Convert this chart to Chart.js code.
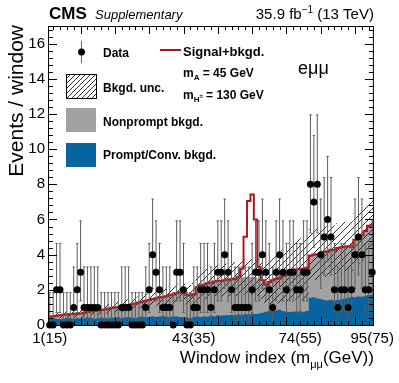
<!DOCTYPE html>
<html>
<head>
<meta charset="utf-8">
<script src="https://cdn.jsdelivr.net/npm/chart.js@4.4.0/dist/chart.umd.min.js"></script>
<style>
html, body { margin: 0; padding: 0; background: #fff; }
#wrap { width: 399px; height: 383px; }
</style>
</head>
<body>
<div id="wrap"><canvas id="myChart" width="399" height="383"></canvas></div>
<script>
// e-mu-mu channel, one entry per mass window (index 1..95)
var counts = [0,0,2,2,0,0,0,1,2,3, 1,1,1,1,1,0,0,0,0,0, 0,1,1,1,0,0,0,0,1,2,
              4,3,2,1,1,1,0,3,3,2, 0,0,1,1,2,2,2,1,2,3, 3,4,3,2,1,1,1,1,1,2,
              3,3,4,3,2,1,3,4,3,2, 3,3,2,2,3,3,8,7,8,4, 5,6,5,2,1,2,2,1,2,4,
              5,4,2,2,3];

// prompt / conversion background (blue)
var prompt = [0.35,0.38,0.35,0.32,0.36,0.40,0.38,0.35,0.40,0.37, 0.38,0.42,0.40,0.36,0.39,0.42,0.40,0.38,0.42,0.40,
              0.44,0.40,0.42,0.46,0.43,0.40,0.45,0.48,0.44,0.46, 0.50,0.46,0.48,0.52,0.47,0.45,0.50,0.48,0.46,0.44,
              0.42,0.40,0.44,0.48,0.45,0.50,0.47,0.52,0.50,0.55, 0.52,0.56,0.55,0.58,0.56,0.60,0.58,0.62,0.60,0.65,
              0.62,0.66,0.70,0.75,0.80,0.85,0.83,0.86,0.80,0.76, 0.74,0.77,0.75,0.78,0.76,0.80,1.55,1.58,1.52,1.48,
              1.42,1.40,1.44,1.40,1.42,1.45,1.50,1.55,1.60,1.58, 1.62,1.60,1.65,1.70,1.72];

// prompt + nonprompt (top of the grey stack)
var bkgdTotal = [0.47,0.50,0.52,0.55,0.58,0.60,0.62,0.62,0.64,0.66, 0.70,0.74,0.78,0.80,0.82,0.85,0.88,0.92,0.96,1.00,
                 1.02,1.05,1.10,1.14,1.18,1.22,1.28,1.32,1.38,1.42, 1.48,1.52,1.56,1.60,1.64,1.70,1.74,1.80,1.86,1.92,
                 1.72,1.68,1.75,2.15,2.25,2.30,2.38,2.42,2.48,2.52, 2.50,2.55,2.58,2.60,2.62,2.65,2.70,2.72,2.75,2.72,
                 2.70,2.65,2.45,2.30,2.45,2.55,2.62,2.70,2.78,2.85, 3.05,3.10,3.15,3.18,3.20,3.25,3.95,4.00,4.02,4.10,
                 4.15,4.20,4.28,4.25,4.38,4.42,4.45,4.48,4.45,4.85, 5.00,5.10,5.35,5.65,5.70];

// background uncertainty (half width of the hatched band)
var bkgdUnc = [0.15,0.16,0.16,0.17,0.18,0.18,0.19,0.19,0.20,0.20, 0.21,0.22,0.23,0.23,0.24,0.25,0.26,0.27,0.28,0.29,
               0.30,0.31,0.32,0.33,0.34,0.35,0.36,0.38,0.39,0.40, 0.42,0.43,0.44,0.45,0.46,0.47,0.48,0.49,0.50,0.52,
               0.55,0.60,0.65,0.75,0.80,0.82,0.85,0.87,0.88,0.90, 0.90,0.92,0.93,0.95,0.96,0.98,1.00,1.00,1.02,1.02,
               1.05,1.10,1.15,1.20,1.30,1.35,1.40,1.45,1.50,1.55, 1.60,1.65,1.70,1.75,1.80,1.82,1.50,1.45,1.45,1.42,
               1.42,1.40,1.42,1.40,1.40,1.42,1.42,1.45,1.45,1.50, 1.50,1.45,1.45,1.40,1.40];

// signal m_A = 45 GeV, m_H+ = 130 GeV
var signal = [0,0,0,0,0,0,0,0,0,0, 0,0,0,0,0,0,0,0,0,0, 0,0,0,0,0,0,0,0,0,0,
              0,0,0,0,0,0,0,0,0,0, 0,0,0,0,0,0,0,0,0,0, 0,0,0,0,0,0.10,0.50,2.30,4.30,4.70,
              3.30,0.65,0.10,0,0,0,0,0,0,0, 0,0,0,0,0,0,0,0,0,0, 0,0,0,0,0,0,0,0,0,0,
              0,0,0,0,0];

// Garwood 68% intervals for n = 0..8
var poissonLo = [0, 0.173, 0.708, 1.367, 2.086, 2.840, 3.620, 4.419, 5.232];
var poissonHi = [1.841, 3.300, 4.638, 5.918, 7.163, 8.382, 9.584, 10.77, 11.95];

var xTickPos = [1, 43, 74, 95];
var xTickLabels = ['1(15)', '43(35)', '74(55)', '95(75)'];
var yTickVals = [0, 2, 4, 6, 8, 10, 12, 14, 16];

var FONT = "'Liberation Sans', Arial, Helvetica, sans-serif";
var BLUE = '#07649f';
var GREY = '#a2a2a2';
var RED = '#b0161c';

//histogram outline: one point per left bin edge, plus the last right edge
function steps(vals) {
    var pts = vals.map(function(v, i) { return {x: i + 0.5, y: v}; });
    pts.push({x: vals.length + 0.5, y: vals[vals.length - 1]});
    return pts;
}

var sigPlusBkgd = bkgdTotal.map(function(v, i) { return v + signal[i]; });
var uncUp = bkgdTotal.map(function(v, i) { return v + bkgdUnc[i]; });
var uncDn = bkgdTotal.map(function(v, i) { return Math.max(0, v - bkgdUnc[i]); });

var dataPts = counts.map(function(c, i) { return {x: i + 1, y: c}; });
var errPts = [];
counts.forEach(function(c, i) {
    var x = i + 1, lo = poissonLo[c], hi = poissonHi[c];
    errPts.push({x: x, y: lo}, {x: x, y: hi}, {x: x, y: null});
    errPts.push({x: x - 0.35, y: hi}, {x: x + 0.35, y: hi}, {x: x, y: null});
    errPts.push({x: x - 0.35, y: lo}, {x: x + 0.35, y: lo}, {x: x, y: null});
});

var canvas = document.getElementById('myChart');
var ctx = canvas.getContext('2d');

function makeHatch(step, lw) {
    var c = document.createElement('canvas');
    c.width = step; c.height = step;
    var g = c.getContext('2d');
    g.strokeStyle = '#1a1a1a';
    g.lineWidth = lw;
    g.beginPath();
    g.moveTo(0, step); g.lineTo(step, 0);
    g.moveTo(-1, 1); g.lineTo(1, -1);
    g.moveTo(step - 1, step + 1); g.lineTo(step + 1, step - 1);
    g.stroke();
    return ctx.createPattern(c, 'repeat');
}
var hatch = makeHatch(7, 0.9);
var hatchLegend = makeHatch(5, 0.9);

// draw a string made of pieces [text, font, dy]
function drawRuns(c, runs, x, y, align) {
    var w = 0;
    runs.forEach(function(r) { c.font = r[1]; w += c.measureText(r[0]).width; });
    var cx = align === 'right' ? x - w : x;
    c.textAlign = 'left';
    runs.forEach(function(r) {
        c.font = r[1];
        c.fillText(r[0], cx, y + (r[2] || 0));
        cx += c.measureText(r[0]).width;
    });
}

////// frame and inner ticks, like ROOT
var framePlugin = {
    id: 'frame',
    afterDatasetsDraw: function(chart) {
        var c = chart.ctx, a = chart.chartArea, xs = chart.scales.x, ys = chart.scales.y;
        c.save();
        c.strokeStyle = '#000';
        c.lineWidth = 1;
        c.beginPath();
        for (var b = 2; b <= 94; b += 2) {
            var px = Math.round(xs.getPixelForValue(b)) + 0.5;
            var len = (b % 10 === 0) ? 8 : 4;
            c.moveTo(px, a.bottom); c.lineTo(px, a.bottom - len);
            c.moveTo(px, a.top); c.lineTo(px, a.top + len);
        }
        for (var k = 0; k <= 42; k++) {
            var v = k * 0.4;
            if (v > 17) break;
            var py = Math.round(ys.getPixelForValue(v)) + 0.5;
            var l2 = (k % 5 === 0) ? 9 : 5;
            c.moveTo(a.left, py); c.lineTo(a.left + l2, py);
            c.moveTo(a.right, py); c.lineTo(a.right - l2, py);
        }
        c.stroke();
        c.strokeRect(a.left + 0.5, a.top + 0.5, a.right - a.left - 1, a.bottom - a.top);
        c.restore();
    }
};

////// header, axis titles and legend
var textPlugin = {
    id: 'texts',
    afterDraw: function(chart) {
        var c = chart.ctx, a = chart.chartArea;
        c.save();
        c.fillStyle = '#000';
        c.textBaseline = 'alphabetic';
        drawRuns(c, [['CMS', 'bold 17px ' + FONT]], 49, 19);
        drawRuns(c, [['Supplementary', 'italic 13px ' + FONT]], 95, 19);
        drawRuns(c, [['35.9 fb', '15px ' + FONT], ['\u22121', '10px ' + FONT, -6], [' (13 TeV)', '15px ' + FONT]], a.right, 19, 'right');

        // axis titles
        drawRuns(c, [['Window index (m', '17px ' + FONT], ['\u03bc\u03bc', '11px ' + FONT, 5], ['(GeV))', '17px ' + FONT]], a.right, 363, 'right');
        c.save();
        c.translate(23, a.top - 1);
        c.rotate(-Math.PI / 2);
        c.font = '21px ' + FONT;
        c.textAlign = 'right';
        c.fillText('Events / window', 0, 0);
        c.restore();

        // legend, left column
        c.strokeStyle = '#5a5ad0';
        c.lineWidth = 1;
        c.beginPath(); c.moveTo(81.5, 41); c.lineTo(81.5, 63); c.stroke();
        c.beginPath(); c.arc(81.5, 52, 3.5, 0, 2 * Math.PI); c.fill();
        drawRuns(c, [['Data', 'bold 12px ' + FONT]], 103, 57);

        c.fillStyle = hatchLegend;
        c.fillRect(66, 74, 30, 24);
        c.strokeStyle = '#000';
        c.strokeRect(66.5, 74.5, 30, 24);
        c.fillStyle = '#000';
        drawRuns(c, [['Bkgd. unc.', 'bold 12px ' + FONT]], 103, 92);

        c.fillStyle = GREY;
        c.fillRect(66, 108, 30, 24);
        c.fillStyle = '#000';
        drawRuns(c, [['Nonprompt bkgd.', 'bold 12px ' + FONT]], 103, 126);

        c.fillStyle = BLUE;
        c.fillRect(66, 143, 30, 24);
        c.fillStyle = '#000';
        drawRuns(c, [['Prompt/Conv. bkgd.', 'bold 12px ' + FONT]], 103, 159);

        // legend, right column
        c.strokeStyle = RED;
        c.lineWidth = 2;
        c.beginPath(); c.moveTo(160, 50); c.lineTo(181, 50); c.stroke();
        drawRuns(c, [['Signal+bkgd.', 'bold 13px ' + FONT]], 183, 56);
        drawRuns(c, [['m', 'bold 12px ' + FONT], ['A', 'bold 8px ' + FONT, 3], [' = 45 GeV', 'bold 12px ' + FONT]], 183, 77);
        drawRuns(c, [['m', 'bold 12px ' + FONT], ['H', 'bold 8px ' + FONT, 3], ['\u00b1', 'bold 6px ' + FONT, -1], [' = 130 GeV', 'bold 12px ' + FONT]], 183, 99);

        drawRuns(c, [['e\u03bc\u03bc', '18px ' + FONT]], 298, 74);
        c.restore();
    }
};

var stepLine = {stepped: true, pointRadius: 0, borderWidth: 0, tension: 0};

var myChart = new Chart(ctx, {
    type: 'line',
    data: {
        datasets: [
            {label: 'Data', data: dataPts, showLine: false, pointRadius: 3.5, pointBorderWidth: 0,
             pointBackgroundColor: '#000', borderColor: '#000', clip: false, order: 0},
            {label: 'err', data: errPts, borderColor: '#5c5c5c', borderWidth: 1, pointRadius: 0,
             spanGaps: false, fill: false, clip: false, order: 1},
            Object.assign({}, stepLine, {label: 'Signal+bkgd.', data: steps(sigPlusBkgd), borderColor: RED,
             borderWidth: 2, fill: false, order: 2}),
            Object.assign({}, stepLine, {label: 'uncUp', data: steps(uncUp), fill: {target: 4},
             backgroundColor: hatch, borderColor: 'rgba(0,0,0,0)', order: 3}),
            Object.assign({}, stepLine, {label: 'uncDn', data: steps(uncDn), fill: false,
             borderColor: 'rgba(0,0,0,0)', order: 4}),
            Object.assign({}, stepLine, {label: 'Prompt', data: steps(prompt), fill: 'origin',
             backgroundColor: BLUE, borderColor: BLUE, borderWidth: 0, order: 5}),
            Object.assign({}, stepLine, {label: 'Nonprompt', data: steps(bkgdTotal), fill: 'origin',
             backgroundColor: GREY, borderColor: GREY, borderWidth: 0, order: 6})
        ]
    },
    options: {
        responsive: false,
        animation: false,
        events: [],
        layout: {padding: {top: 26, right: 24, left: 0, bottom: 0}},
        plugins: {legend: {display: false}, tooltip: {enabled: false}, filler: {propagate: false}},
        scales: {
            x: {
                type: 'linear', min: 0.5, max: 95.5,
                grid: {display: false, drawTicks: false},
                border: {display: false},
                afterBuildTicks: function(s) { s.ticks = xTickPos.map(function(v) { return {value: v}; }); },
                afterFit: function(s) { s.height = 58; },
                ticks: {
                    autoSkip: false, maxRotation: 0, padding: 5, color: '#000',
                    font: {family: FONT, size: 15},
                    callback: function(v) { return xTickLabels[xTickPos.indexOf(v)]; }
                }
            },
            y: {
                type: 'linear', min: 0, max: 17,
                grid: {display: false, drawTicks: false},
                border: {display: false},
                afterBuildTicks: function(s) { s.ticks = yTickVals.map(function(v) { return {value: v}; }); },
                afterFit: function(s) { s.width = 48; },
                ticks: {padding: 3, color: '#000', font: {family: FONT, size: 15}}
            }
        }
    },
    plugins: [framePlugin, textPlugin]
});
</script>
</body>
</html>
